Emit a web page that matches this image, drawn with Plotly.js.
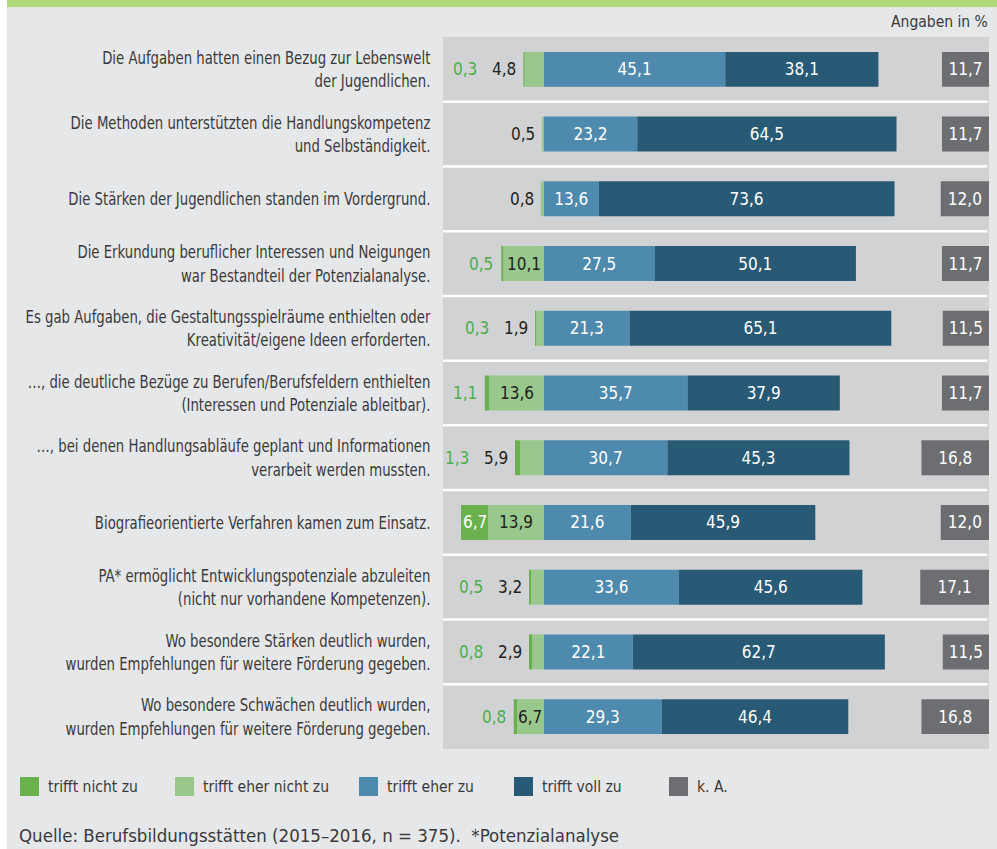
<!DOCTYPE html>
<html>
<head>
<meta charset="utf-8">
<script src="https://cdn.plot.ly/plotly-3.0.1.min.js"></script>
<style>
  html, body { margin: 0; padding: 0; background: #e6e7e9; }
  #chart { width: 997px; height: 849px; }
</style>
</head>
<body>
<div id="chart"></div>
<script>
// ---------- data ----------
const categories = [
  "Die Aufgaben hatten einen Bezug zur Lebenswelt<br>der Jugendlichen.",
  "Die Methoden unterstützten die Handlungskompetenz<br>und Selbständigkeit.",
  "Die Stärken der Jugendlichen standen im Vordergrund.",
  "Die Erkundung beruflicher Interessen und Neigungen<br>war Bestandteil der Potenzialanalyse.",
  "Es gab Aufgaben, die Gestaltungsspielräume enthielten oder<br>Kreativität/eigene Ideen erforderten.",
  "…, die deutliche Bezüge zu Berufen/Berufsfeldern enthielten<br>(Interessen und Potenziale ableitbar).",
  "…, bei denen Handlungsabläufe geplant und Informationen<br>verarbeit werden mussten.",
  "Biografieorientierte Verfahren kamen zum Einsatz.",
  "PA* ermöglicht Entwicklungspotenziale abzuleiten<br>(nicht nur vorhandene Kompetenzen).",
  "Wo besondere Stärken deutlich wurden,<br>wurden Empfehlungen für weitere Förderung gegeben.",
  "Wo besondere Schwächen deutlich wurden,<br>wurden Empfehlungen für weitere Förderung gegeben."
];
const trifftNichtZu     = [0.3, 0,   0,   0.5,  0.3, 1.1,  1.3, 6.7,  0.5, 0.8, 0.8];
const trifftEherNichtZu = [4.8, 0.5, 0.8, 10.1, 1.9, 13.6, 5.9, 13.9, 3.2, 2.9, 6.7];
const trifftEherZu      = [45.1, 23.2, 13.6, 27.5, 21.3, 35.7, 30.7, 21.6, 33.6, 22.1, 29.3];
const trifftVollZu      = [38.1, 64.5, 73.6, 50.1, 65.1, 37.9, 45.3, 45.9, 45.6, 62.7, 46.4];
const keineAngabe       = [11.7, 11.7, 12.0, 11.7, 11.5, 11.7, 16.8, 12.0, 17.1, 11.5, 16.8];
const seriesNames = ["trifft nicht zu", "trifft eher nicht zu", "trifft eher zu", "trifft voll zu", "k. A."];
const unitNote = "Angaben in %";
const sourceNote = "Quelle: Berufsbildungsstätten (2015–2016, n = 375).\u00a0\u00a0*Potenzialanalyse";

// ---------- style ----------
const colors = ["#6ab04c", "#98c88c", "#4e8aad", "#295a75", "#6d6e71"];
const labelFont = "'DejaVu Sans Condensed', 'DejaVu Sans', sans-serif";
const valueFont = "'DejaVu Sans Condensed', 'DejaVu Sans', sans-serif";
const textDark = "#3a3a3c";
const LABEL_SX = 0.82;   // horizontal compression of the category labels (condensed look)
const W = 997, H = 849;
const M = {l: 443, r: 8, t: 37, b: 100};
const XMIN = -25.1, XMAX = 110.7;
const INSIDE_MIN = 6;
const fmt = v => v.toFixed(1).replace('.', ',');
const px = x => (x - M.l) / (W - M.l - M.r);
const py = y => (H - M.b - y) / (H - M.t - M.b);
const idx = categories.map((_, i) => i);

function barTrace(vals, name, color, showText, axis) {
  return {
    type: 'bar', orientation: 'h', name: name,
    y: idx, x: vals,
    xaxis: axis || 'x', yaxis: 'y',
    marker: {color: color, line: {width: 0}},
    text: showText ? vals.map(fmt) : undefined,
    textposition: showText ? 'inside' : 'none',
    insidetextanchor: 'middle',
    textangle: 0,
    constraintext: 'none',
    textfont: {family: valueFont, size: 17, color: '#ffffff'},
    hoverinfo: 'skip', showlegend: false
  };
}

const traces = [
  barTrace(trifftEherNichtZu.map(v => -v), seriesNames[1], colors[1], false),
  barTrace(trifftNichtZu.map(v => -v), seriesNames[0], colors[0], false),
  barTrace(trifftEherZu, seriesNames[2], colors[2], true),
  barTrace(trifftVollZu, seriesNames[3], colors[3], true),
  barTrace(keineAngabe, seriesNames[4], colors[4], true, 'x2')
];

// ---------- annotations for the negative side ----------
const annotations = [];
idx.forEach(i => {
  const enz = trifftEherNichtZu[i], nz = trifftNichtZu[i];
  const left = -(enz + nz);
  const enzInside = enz >= INSIDE_MIN;
  if (enz > 0) {
    if (enzInside) {
      annotations.push({x: -enz / 2, y: i, xref: 'x', yref: 'y', text: fmt(enz), showarrow: false,
        xanchor: 'center', font: {family: valueFont, size: 17, color: '#231f20'}});
    } else {
      annotations.push({x: left, y: i, xref: 'x', yref: 'y', text: fmt(enz), showarrow: false,
        xanchor: 'right', xshift: -5, font: {family: valueFont, size: 17, color: '#231f20'}});
    }
  }
  if (nz > 0) {
    if (nz >= INSIDE_MIN) {
      annotations.push({x: -(enz + nz / 2), y: i, xref: 'x', yref: 'y', text: fmt(nz), showarrow: false,
        xanchor: 'center', font: {family: valueFont, size: 17, color: '#ffffff'}});
    } else {
      annotations.push({x: left, y: i, xref: 'x', yref: 'y', text: fmt(nz), showarrow: false,
        xanchor: 'right', xshift: enzInside ? -6 : -44,
        font: {family: valueFont, size: 17, color: '#4cae4c'}});
    }
  }
});

annotations.push({x: px(990), y: py(22), xref: 'paper', yref: 'paper', text: unitNote, showarrow: false,
  xanchor: 'right', yanchor: 'middle', font: {family: labelFont, size: 15.5, color: textDark}});
annotations.push({x: px(17), y: py(835), xref: 'paper', yref: 'paper', text: sourceNote, showarrow: false,
  xanchor: 'left', yanchor: 'middle', font: {family: labelFont, size: 18.5, color: textDark}});

// ---------- shapes ----------
const shapes = [];
for (let i = 0; i < categories.length - 1; i++) {
  shapes.push({type: 'line', xref: 'paper', yref: 'y', x0: 0, x1: 0.997, y0: i + 0.5, y1: i + 0.5,
    line: {color: '#ffffff', width: 2.5}, layer: 'above'});
}
// top green rule and left white strip
shapes.push({type: 'rect', xref: 'paper', yref: 'paper', x0: px(7), x1: px(997), y0: py(7), y1: py(0),
  fillcolor: '#b2d67a', line: {width: 0}, layer: 'below'});
shapes.push({type: 'rect', xref: 'paper', yref: 'paper', x0: px(0), x1: px(7), y0: py(849), y1: py(0),
  fillcolor: '#ffffff', line: {width: 0}, layer: 'below'});

// manual legend
const legendX = [20, 175, 359, 514, 669];
seriesNames.forEach((n, k) => {
  shapes.push({type: 'rect', xref: 'paper', yref: 'paper',
    x0: px(legendX[k]), x1: px(legendX[k] + 19), y0: py(796), y1: py(777),
    fillcolor: colors[k], line: {width: 0}});
  annotations.push({x: px(legendX[k] + 26), y: py(787), xref: 'paper', yref: 'paper', text: n,
    showarrow: false, xanchor: 'left', yanchor: 'middle',
    font: {family: labelFont, size: 15.5, color: textDark}});
});

const layout = {
  width: W, height: H,
  margin: M,
  paper_bgcolor: '#e6e7e9',
  plot_bgcolor: '#d1d2d4',
  barmode: 'relative',
  bargap: 0.46,
  uniformtext: {mode: 'show', minsize: 16},
  xaxis: {range: [XMIN, XMAX], visible: false, fixedrange: true},
  xaxis2: {range: [XMAX - XMIN, 0], overlaying: 'x', visible: false, fixedrange: true},
  yaxis: {
    range: [categories.length - 0.5, -0.5],
    tickmode: 'array', tickvals: idx, ticktext: categories,
    ticks: 'outside', ticklen: 8, tickcolor: 'rgba(0,0,0,0)',
    showgrid: false, zeroline: false, showline: false, fixedrange: true,
    tickfont: {family: labelFont, size: 18, color: textDark}
  },
  shapes: shapes,
  annotations: annotations,
  showlegend: false
};

Plotly.newPlot('chart', traces, layout, {displayModeBar: false, staticPlot: true}).then(() => {
  // compress category labels horizontally, keeping their right edge fixed
  document.querySelectorAll('#chart .ytick text').forEach(t => {
    const x = parseFloat(t.getAttribute('x')) || 0;
    const tr = t.getAttribute('transform') || '';
    t.setAttribute('transform', tr + ' translate(' + x + ',0) scale(' + LABEL_SX + ',1) translate(' + (-x) + ',0)');
  });
});
</script>
</body>
</html>
